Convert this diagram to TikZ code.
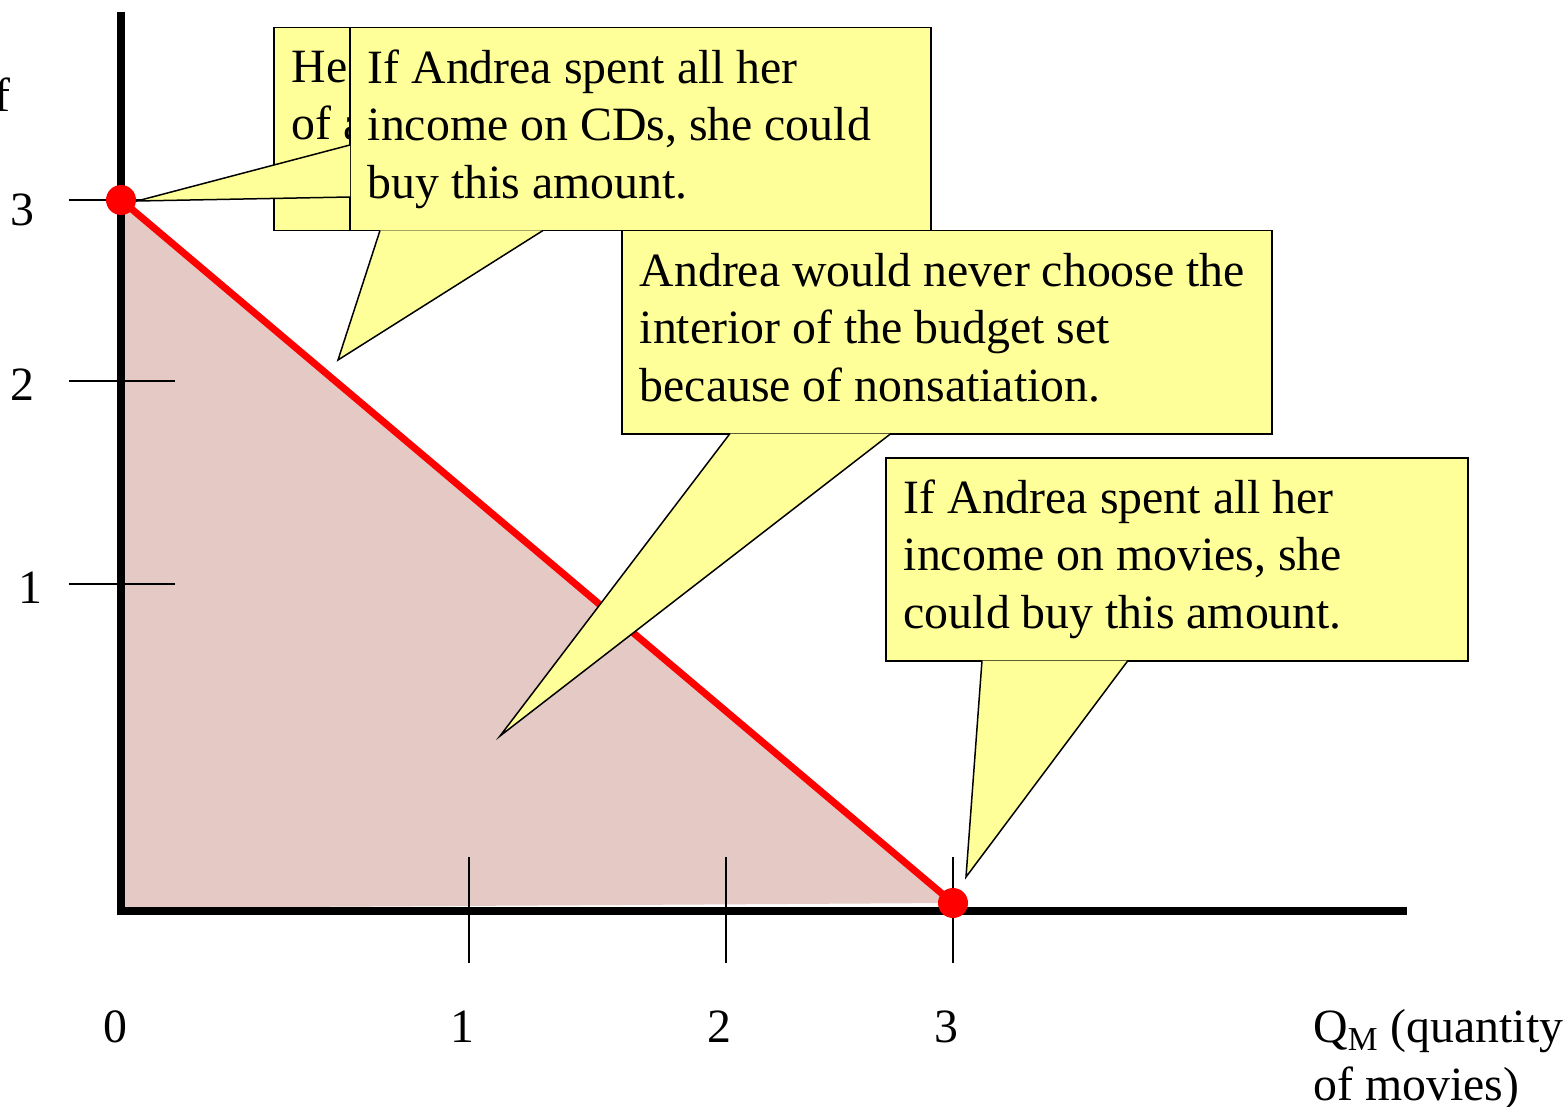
\documentclass[tikz,border=0pt]{standalone}
\usepackage{fontspec}
\setmainfont{Liberation Serif}
\usetikzlibrary{calc}

\definecolor{calloutyellow}{RGB}{255,255,153}
\definecolor{budgetpink}{RGB}{229,201,197}

\begin{document}
\begin{tikzpicture}[x=0.5pt, y=-0.5pt, font=\fontsize{23.9}{28.75}\selectfont]
	% Define styles
	\tikzstyle{callout} = [rectangle, draw, line width=0.75pt, fill=calloutyellow, anchor=north west, inner xsep=9pt, inner ysep=0pt, minimum height=101.5pt, align=left, execute at begin node={\spaceskip=0pt\xspaceskip=0pt}]
	\tikzstyle{pointer} = [draw, line width=0.75pt, fill=calloutyellow]
	\tikzstyle{axis} = [line width=4pt, line join=miter]
	\tikzstyle{tick} = [line width=0.8pt]
	\tikzstyle{dot} = [circle, fill=red, inner sep=0pt, minimum size=15pt]
	\tikzstyle{ticklabel} = [inner sep=0pt]

	\useasboundingbox (0,0) rectangle (1564,1107);

	% Budget set
	\coordinate (cdmax) at (121,200);
	\coordinate (moviemax) at (953,903);
	\fill[budgetpink] (cdmax) -- (moviemax) -- (121,908) -- cycle;

	% Axes
	\draw[axis] (121,12) -- (121,911) -- (1407,911);

	% Ticks and labels
	\foreach \y/\x/\ly/\lab in {200/22/210/3, 381/22/385/2, 584/30/588/1} {
		\draw[tick] (69,\y) -- (175,\y);
		\node[ticklabel] (ylab\lab) at (\x,\ly) {\lab};
	}
	\foreach \x/\lab in {469/1, 726/2, 953/3} {
		\draw[tick] (\x,857) -- (\x,963);
		\node[ticklabel] (xlab\lab) at (\x-7,1027) {\lab};
	}
	\node[ticklabel] (xlab0) at (115,1027) {0};
	\node[ticklabel, anchor=east] (ylabel) at (11,95) {f};
	\node[ticklabel, anchor=north west, align=left] (xlabel) at (1313,1009) {Q\textsubscript{M} (quantity\\of movies)};

	% Budget line
	\draw[red, line width=3.5pt] (cdmax) -- (moviemax);

	% Callouts
	\node[callout, text width=310.5pt] (herenote) at (273,27) {He\\of a\\\phantom{y}};
	\node[callout, text width=272.5pt] (cdnote) at (349,27) {If Andrea spent all her\\income on CDs, she could\\buy this amount.};
	\coordinate (cdtip) at (137,201);
	\coordinate (heretip) at (338,360);
	\filldraw[pointer] ($(cdnote.north west)+(1,118)$) -- (cdtip) -- ($(cdnote.north west)+(1,170)$);
	\filldraw[pointer] ($(cdnote.south west)+(31,-1)$) -- (heretip) -- ($(cdnote.south west)+(194,-1)$);

	\node[callout, text width=307pt] (nonsatnote) at (621,230) {Andrea would never choose the\\interior of the budget set\\because of nonsatiation.\vphantom{y}};
	\coordinate (nonsattip) at (500,736);
	\filldraw[pointer] ($(nonsatnote.south west)+(109,-1)$) -- (nonsattip) -- ($(nonsatnote.south west)+(270,-1)$);

	\node[callout, text width=273pt] (movienote) at (885,457) {If Andrea spent all her\\income on movies, she\\could buy this amount.};
	\coordinate (movietip) at (966,877);
	\filldraw[pointer] ($(movienote.south west)+(97,-1)$) -- (movietip) -- ($(movienote.south west)+(243,-1)$);

	% Corner points
	\node[dot] (cdpoint) at (cdmax) {};
	\node[dot] (moviepoint) at (moviemax) {};
\end{tikzpicture}
\end{document}
